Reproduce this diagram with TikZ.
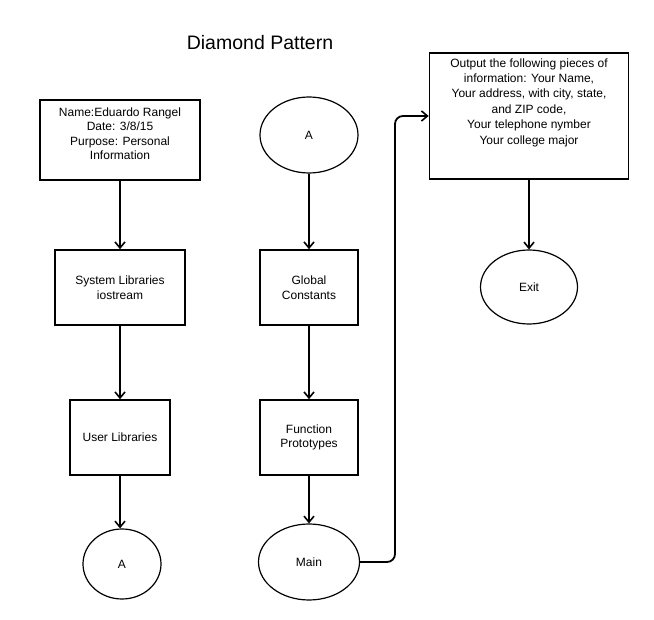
\documentclass[tikz,border=0pt]{standalone}
\usepackage{fontspec}
\setmainfont{Liberation Sans}
\usetikzlibrary{arrows.meta,shapes.geometric}
\begin{document}
\begin{tikzpicture}[x=1pt,y=-1pt,
  txt/.style={align=center, font=\fontsize{12}{14.5}\selectfont},
  box/.style={draw, line width=1.6pt, rectangle, txt, inner sep=0pt},
  oval/.style={draw, line width=1.2pt, ellipse, inner sep=0pt, txt},
  flow/.style={line width=1.8pt, -{Straight Barb[length=6pt,width=10pt,line width=1.6pt]}},
]
\useasboundingbox[fill=white] (0,0) rectangle (654,620);

\node[font=\fontsize{19.5}{22}\selectfont] (title) at (260,43) {Diamond Pattern};

% left column
\node[box, minimum width=160pt, minimum height=80pt] (info) at (120,140) {};
\node[txt, anchor=north, inner sep=0pt] (infotext) at ([yshift=-8pt]info.north)
  {Name:Eduardo Rangel\\Date: 3/8/15\\Purpose: Personal\\Information};
\node[box, minimum width=130pt, minimum height=75pt] (syslib) at (120,287.5) {System Libraries\\iostream};
\node[box, minimum width=100pt, minimum height=75pt] (userlib) at (120,437.5) {User Libraries};
\node[oval, minimum width=78pt, minimum height=70pt] (a1) at (122,564) {A};

% middle column
\node[oval, minimum width=98pt, minimum height=76pt] (a2) at (309,135) {A};
\node[box, minimum width=98pt, minimum height=75pt] (global) at (309,287.5) {Global\\Constants};
\node[box, minimum width=98pt, minimum height=75pt] (proto) at (309,437.5) {Function\\Prototypes};
\node[oval, minimum width=101pt, minimum height=76pt] (main) at (309,562) {Main};

% right column
\node[box, minimum width=199pt, minimum height=126pt] (output) at (529,116) {};
\node[txt, anchor=north, inner sep=0pt, font=\fontsize{12}{15.4}\selectfont] (outtext) at ([yshift=-6pt]output.north)
  {Output the following pieces of\\information: Your Name,\\Your address, with city, state,\\and ZIP code,\\Your telephone nymber\\Your college major};
\node[oval, minimum width=97pt, minimum height=74pt] (exit) at (529,287) {Exit};

% connectors
\draw[flow] (info) -- (syslib);
\draw[flow] (syslib) -- (userlib);
\draw[flow] (userlib.south) -- (userlib.south |- a1.north);
\draw[flow] (a2) -- (global);
\draw[flow] (global) -- (proto);
\draw[flow] (proto) -- (main);
\coordinate (bend) at (395,116);
\draw[flow, rounded corners=8pt] (main.east) -| (bend) -- (output.west);
\draw[flow] (output) -- (exit);
\end{tikzpicture}
\end{document}
